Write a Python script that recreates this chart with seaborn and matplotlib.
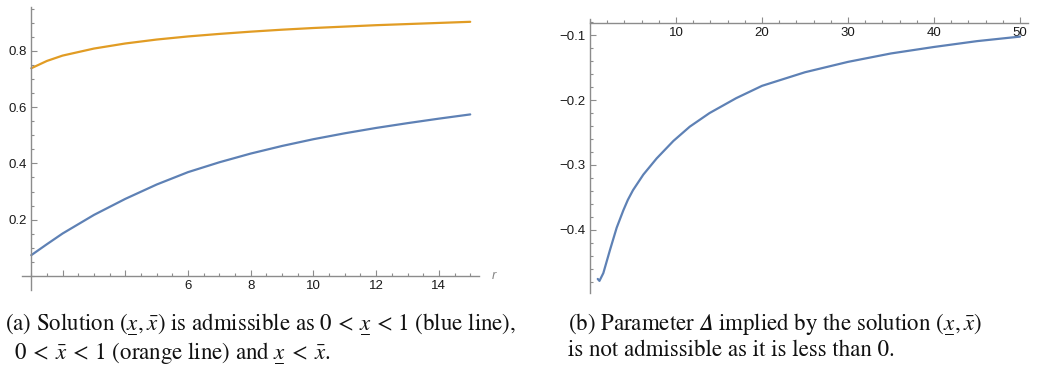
import matplotlib
matplotlib.use("Agg")
import matplotlib.pyplot as plt
from matplotlib.ticker import MultipleLocator, FixedLocator, FixedFormatter
from matplotlib.mathtext import MathTextParser
import pandas as pd
import seaborn as sns

# (a) solution components against r
r_a = [1, 1.5, 2, 3, 4, 5, 6, 7, 8, 9, 10, 11, 12, 13, 14, 15]
x_low = [0.074, 0.113, 0.151, 0.217, 0.274, 0.325, 0.369, 0.404, 0.435,
         0.462, 0.486, 0.507, 0.526, 0.543, 0.559, 0.574]
x_high = [0.738, 0.764, 0.783, 0.808, 0.826, 0.840, 0.851, 0.860, 0.868,
          0.875, 0.881, 0.886, 0.891, 0.895, 0.899, 0.903]

# (b) implied parameter Delta against r
r_b = [0.9, 1.1, 1.55, 2.33, 3.1, 3.88, 4.4, 5.0, 6.2, 7.75, 9.7, 11.6,
       13.9, 17, 20, 25, 30, 35, 40, 45, 50]
delta = [-0.476, -0.479, -0.467, -0.431, -0.397, -0.370, -0.354, -0.339,
         -0.315, -0.290, -0.263, -0.241, -0.220, -0.197, -0.178, -0.157,
         -0.141, -0.128, -0.118, -0.109, -0.102]

xticks_a = [6, 8, 10, 12, 14]
yticks_a = [0.2, 0.4, 0.6, 0.8]
xticks_b = [10, 20, 30, 40, 50]
yticks_b = [-0.4, -0.3, -0.2, -0.1]

BLUE = "#5e81b5"
ORANGE = "#e19c24"
AXIS = "#8c8c8c"

sns.set_style("white")
plt.rcParams["font.family"] = ["Liberation Sans", "DejaVu Sans"]
plt.rcParams["mathtext.fontset"] = "stix"


def underbar(sym):
    # mathtext has no \underline in some versions, fall back to \underset
    try:
        MathTextParser("path").parse(r"$\underline{%s}$" % sym)
        return r"\underline{%s}" % sym
    except Exception:
        return r"\underset{-}{%s}" % sym


def style_axes(ax):
    for s in ["top", "right"]:
        ax.spines[s].set_visible(False)
    for s in ["left", "bottom"]:
        ax.spines[s].set_color(AXIS)
        ax.spines[s].set_linewidth(1.0)
    ax.tick_params(which="both", direction="in", color=AXIS, width=0.8,
                   labelsize=9.5, labelcolor="#1a1a1a",
                   bottom=True, left=True)
    ax.tick_params(which="major", length=4.5, pad=3)
    ax.tick_params(which="minor", length=2.5)
    ax.set_xlabel("")
    ax.set_ylabel("")
    leg = ax.get_legend()
    if leg is not None:
        leg.remove()


fig = plt.figure(figsize=(10.39, 3.69), dpi=100)

# ---- panel (a)
ax1 = fig.add_axes([22 / 1039, 79 / 369, 457 / 1039, 283 / 369])
df_a = pd.DataFrame({"r": r_a + r_a,
                     "val": x_low + x_high,
                     "series": ["low"] * len(r_a) + ["high"] * len(r_a)})
sns.lineplot(data=df_a, x="r", y="val", hue="series",
             palette={"low": BLUE, "high": ORANGE}, linewidth=1.6, ax=ax1)
ax1.set_xlim(0.705, 15.28)
ax1.set_ylim(-0.0497, 0.9556)
ax1.spines["left"].set_position(("data", 1))
ax1.spines["bottom"].set_position(("data", 0))
style_axes(ax1)
ax1.xaxis.set_major_locator(FixedLocator([2, 4] + xticks_a))
ax1.xaxis.set_major_formatter(FixedFormatter(["", ""] + [str(t) for t in xticks_a]))
ax1.xaxis.set_minor_locator(MultipleLocator(0.5))
ax1.yaxis.set_major_locator(FixedLocator(yticks_a))
ax1.yaxis.set_major_formatter(FixedFormatter([f"{t:.1f}" for t in yticks_a]))
ax1.yaxis.set_minor_locator(MultipleLocator(0.05))
ax1.annotate("r", xy=(1, 0), xycoords=("axes fraction", "data"),
             xytext=(9, 0), textcoords="offset points", ha="left", va="center",
             fontsize=9.5, style="italic", color="#888888")

# ---- panel (b)
ax2 = fig.add_axes([590 / 1039, 76 / 369, 438 / 1039, 273.7 / 369])
df_b = pd.DataFrame({"r": r_b, "delta": delta})
sns.lineplot(data=df_b, x="r", y="delta", color=BLUE, linewidth=1.6, ax=ax2)
ax2.set_xlim(0, 50.93)
ax2.set_ylim(-0.4977, -0.0753)
ax2.spines["left"].set_position(("data", 0))
ax2.spines["bottom"].set_position(("data", -0.0805))
style_axes(ax2)
ax2.xaxis.set_major_locator(FixedLocator(xticks_b))
ax2.xaxis.set_major_formatter(FixedFormatter([str(t) for t in xticks_b]))
ax2.xaxis.set_minor_locator(MultipleLocator(2))
ax2.yaxis.set_major_locator(FixedLocator(yticks_b))
ax2.yaxis.set_major_formatter(FixedFormatter([f"\u2212{abs(t):.1f}" for t in yticks_b]))
ax2.yaxis.set_minor_locator(MultipleLocator(0.02))

# ---- captions
xl = underbar("x")
pair = r"$(%s, \bar{x})$" % xl
cap = dict(fontsize=16.5, family=["STIXGeneral", "DejaVu Serif"],
           color="#111111", va="baseline")
fig.text(5 / 1039, 1 - 327 / 369,
         r"(a) Solution %s is admissible as $0\,<\,%s\,<\,1$ (blue line)," % (pair, xl), **cap)
fig.text(14 / 1039, 1 - 356 / 369,
         r"$0\:<\:\bar{x}\:<\:1$ (orange line) and $%s\:<\:\bar{x}$." % xl, **cap)
fig.text(568 / 1039, 1 - 327 / 369,
         "(b) Parameter \U0001D6E5 implied by the solution " + pair, **cap)
fig.text(568 / 1039, 1 - 356 / 369,
         "is not admissible as it is less than 0.", **cap)

fig.savefig("out.png", dpi=100)
